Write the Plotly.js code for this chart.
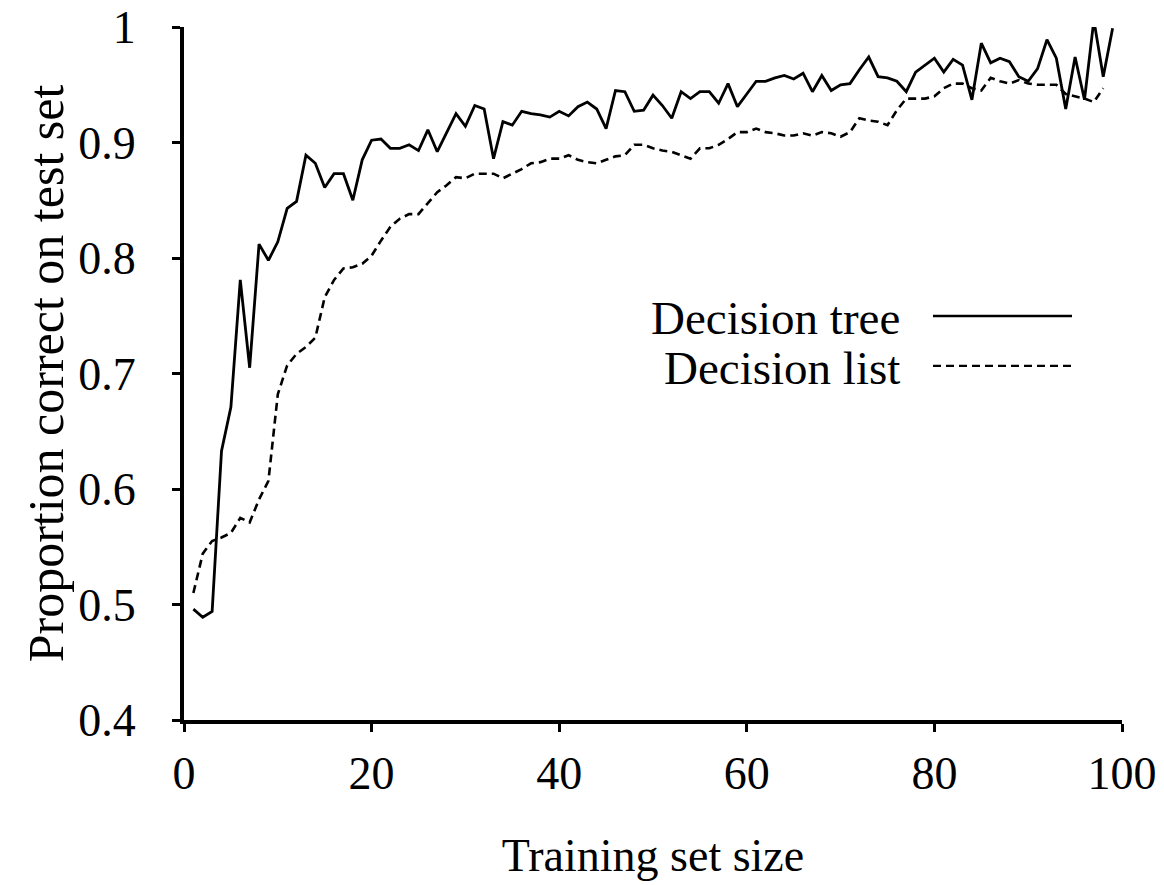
<!DOCTYPE html>
<html>
<head>
<meta charset="utf-8">
<script src="https://cdn.plot.ly/plotly-3.0.1.min.js"></script>
<style>
html,body{margin:0;padding:0;background:#fff;}
#chart{width:1164px;height:885px;}
</style>
</head>
<body>
<div id="chart"></div>
<script>
// ---- data ----
const treeSizes = [1,2,3,4,5,6,7,8,9,10,11,12,13,14,15,16,17,18,19,20,21,22,23,24,25,26,27,28,29,30,31,32,33,34,35,36,37,38,39,40,41,42,43,44,45,46,47,48,49,50,51,52,53,54,55,56,57,58,59,60,61,62,63,64,65,66,67,68,69,70,71,72,73,74,75,76,77,78,79,80,81,82,83,84,85,86,87,88,89,90,91,92,93,94,95,96,97,98,99];
const treeAccuracy = [0.496,0.489,0.494,0.633,0.671,0.781,0.705,0.812,0.798,0.814,0.843,0.849,0.889,0.882,0.861,0.873,0.873,0.850,0.885,0.902,0.903,0.895,0.895,0.898,0.893,0.911,0.892,0.909,0.925,0.914,0.932,0.929,0.886,0.918,0.915,0.927,0.925,0.924,0.922,0.927,0.923,0.931,0.935,0.929,0.912,0.945,0.944,0.927,0.928,0.941,0.932,0.921,0.944,0.938,0.944,0.944,0.934,0.951,0.931,0.942,0.953,0.953,0.956,0.958,0.955,0.960,0.944,0.958,0.945,0.950,0.951,0.963,0.974,0.957,0.956,0.953,0.944,0.961,0.967,0.973,0.961,0.972,0.967,0.937,0.986,0.969,0.973,0.970,0.957,0.953,0.964,0.989,0.973,0.929,0.974,0.937,1.006,0.957,0.999];
const listSizes = [1,2,3,4,5,6,7,8,9,10,11,12,13,14,15,16,17,18,19,20,21,22,23,24,25,26,27,28,29,30,31,32,33,34,35,36,37,38,39,40,41,42,43,44,45,46,47,48,49,50,51,52,53,54,55,56,57,58,59,60,61,62,63,64,65,66,67,68,69,70,71,72,73,74,75,76,77,78,79,80,81,82,83,84,85,86,87,88,89,90,91,92,93,94,95,96,97,98];
const listAccuracy = [0.510,0.544,0.555,0.558,0.562,0.575,0.571,0.591,0.607,0.682,0.707,0.717,0.723,0.731,0.766,0.781,0.791,0.792,0.795,0.802,0.815,0.827,0.834,0.838,0.838,0.848,0.857,0.863,0.870,0.869,0.873,0.873,0.873,0.869,0.873,0.877,0.882,0.883,0.886,0.886,0.889,0.885,0.883,0.882,0.885,0.888,0.889,0.898,0.898,0.895,0.893,0.892,0.889,0.886,0.895,0.895,0.898,0.903,0.909,0.909,0.912,0.909,0.908,0.906,0.906,0.908,0.906,0.909,0.908,0.905,0.909,0.921,0.919,0.918,0.915,0.928,0.938,0.938,0.938,0.940,0.947,0.951,0.951,0.947,0.945,0.956,0.953,0.951,0.954,0.951,0.950,0.950,0.950,0.942,0.940,0.938,0.935,0.947];
const seriesNames = ["Decision tree", "Decision list"];
const xTickVals = [0,20,40,60,80,100];
const xTickText = ["0","20","40","60","80","100"];
const yTickVals = [0.4,0.5,0.6,0.7,0.8,0.9,1.0];
const yTickText = ["0.4","0.5","0.6","0.7","0.8","0.9","1"];
const xTitle = "Training set size";
const yTitle = "Proportion correct on test set";

const FONT = "'Liberation Serif', 'Times New Roman', serif";
const DASH = "8px,5px";

const traces = [
  {x: treeSizes, y: treeAccuracy, name: seriesNames[0], type: "scatter", mode: "lines",
   line: {color: "#000", width: 2.8}, showlegend: false, hoverinfo: "skip"},
  {x: listSizes, y: listAccuracy, name: seriesNames[1], type: "scatter", mode: "lines",
   line: {color: "#000", width: 2.6, dash: DASH}, showlegend: false, hoverinfo: "skip"}
];

const axisCommon = {
  showline: true, linecolor: "#000", linewidth: 4,
  ticks: "outside", ticklen: 8, tickwidth: 3, tickcolor: "#000",
  showgrid: false, zeroline: false, automargin: false,
  tickfont: {family: FONT, size: 46, color: "#000"}
};

// legend drawn in the reference style (text left of the line sample)
const legX0 = 0.7985, legX1 = 0.9467, legTextX = 0.7655;
const legY = [0.583, 0.511];
const legTextY = [0.580, 0.508];

const layout = {
  width: 1164, height: 885,
  margin: {l: 184, r: 42, t: 27, b: 165},
  paper_bgcolor: "#fff", plot_bgcolor: "#fff",
  font: {family: FONT, color: "#000"},
  xaxis: Object.assign({}, axisCommon, {
    range: [0, 100], tickvals: xTickVals, ticktext: xTickText,
    ticklabelstandoff: 2,
    title: {text: xTitle, font: {family: FONT, size: 46, color: "#000"}, standoff: 42}
  }),
  yaxis: Object.assign({}, axisCommon, {
    range: [0.4, 1.0], tickvals: yTickVals, ticktext: yTickText,
    ticklabelstandoff: 27,
    title: {text: yTitle, font: {family: FONT, size: 50, color: "#000"}, standoff: 0}
  }),
  showlegend: false,
  shapes: [
    {type: "line", xref: "paper", yref: "paper", x0: legX0, x1: legX1, y0: legY[0], y1: legY[0],
     line: {color: "#000", width: 2.6}},
    {type: "line", xref: "paper", yref: "paper", x0: legX0, x1: legX1, y0: legY[1], y1: legY[1],
     line: {color: "#000", width: 2.4, dash: DASH}}
  ],
  annotations: [
    {xref: "paper", yref: "paper", x: legTextX, y: legTextY[0], xanchor: "right", yanchor: "middle",
     text: seriesNames[0], showarrow: false, font: {family: FONT, size: 47, color: "#000"}},
    {xref: "paper", yref: "paper", x: legTextX, y: legTextY[1], xanchor: "right", yanchor: "middle",
     text: seriesNames[1], showarrow: false, font: {family: FONT, size: 47, color: "#000"}}
  ]
};

Plotly.newPlot("chart", traces, layout, {staticPlot: true, displayModeBar: false});
</script>
</body>
</html>
